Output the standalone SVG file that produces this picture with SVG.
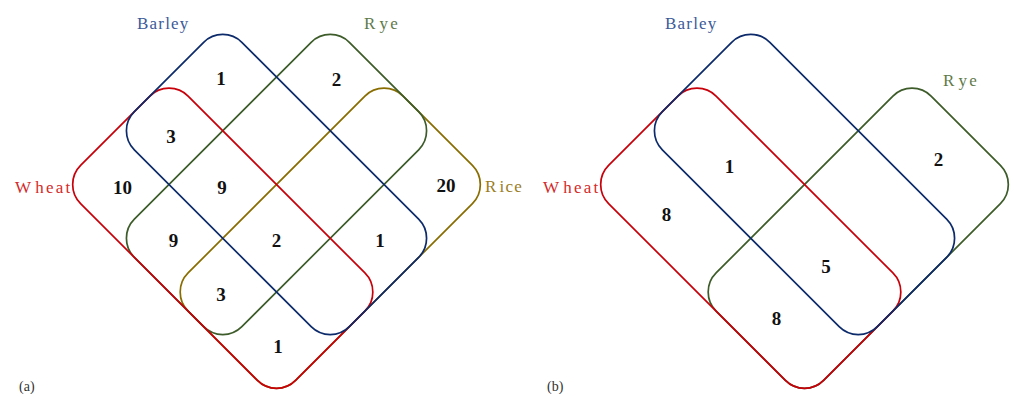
<svg xmlns="http://www.w3.org/2000/svg" width="1011" height="394" viewBox="0 0 1011 394">
  <style>
    .set { fill: none; stroke-width: 1.7; }
    .wheat { stroke: #c8000a; }
    .barley { stroke: #0d2b6b; }
    .rye { stroke: #3d5c2a; }
    .rice { stroke: #8a6d00; }
    .num { font-family: "Liberation Serif", serif; font-weight: bold; font-size: 19px; fill: #111; text-anchor: middle; }
    .lbl { font-family: "Liberation Serif", serif; font-size: 17px; letter-spacing: 1.2px; }
    .wide { letter-spacing: 2.2px; }
    .cap { font-family: "Liberation Serif", serif; font-size: 14px; fill: #333; }
  </style>
  <defs>
    <rect id="shape" x="-152.03" y="-76.01" width="304.06" height="152.03" rx="27" ry="27"/>
  </defs>
  <rect width="1011" height="394" fill="#fff"/>

  <!-- Panel (a) -->
  <g id="panel-a">
    <g id="a-rice"><use href="#shape" class="set rice" transform="translate(330.25 238.25) rotate(-45)"/></g>
    <g id="a-rye"><use href="#shape" class="set rye" transform="translate(276.5 184.5) rotate(-45)"/></g>
    <g id="a-wheat"><use href="#shape" class="set wheat" transform="translate(222.75 238.25) rotate(45)"/></g>
    <g id="a-barley"><use href="#shape" class="set barley" transform="translate(276.5 184.5) rotate(45)"/></g>

    <g id="a-labels">
      <text class="lbl" x="137" y="29" fill="#3c5a99">Barley</text>
      <text class="lbl" x="364" y="29" fill="#5f7a4a">R<tspan dx="3" class="wide">ye</tspan></text>
      <text class="lbl" x="15" y="193" fill="#d42a2a">W<tspan dx="3" class="wide">heat</tspan></text>
      <text class="lbl" x="485" y="192" fill="#9a7d1e">R<tspan dx="2">ice</tspan></text>
      <text class="cap" x="19" y="391">(a)</text>
    </g>
    <g id="a-numbers">
      <text class="num" x="221" y="85">1</text>
      <text class="num" x="336.5" y="86">2</text>
      <text class="num" x="171" y="143">3</text>
      <text class="num" x="122.5" y="194">10</text>
      <text class="num" x="222" y="194">9</text>
      <text class="num" x="446" y="192">20</text>
      <text class="num" x="173.5" y="247">9</text>
      <text class="num" x="276.5" y="247">2</text>
      <text class="num" x="380" y="247">1</text>
      <text class="num" x="221" y="301">3</text>
      <text class="num" x="278" y="353">1</text>
    </g>
  </g>

  <!-- Panel (b) -->
  <g id="panel-b">
    <g id="b-rye"><use href="#shape" class="set rye" transform="translate(858.25 238.25) rotate(-45)"/></g>
    <g id="b-wheat"><use href="#shape" class="set wheat" transform="translate(750.75 238.25) rotate(45)"/></g>
    <g id="b-barley"><use href="#shape" class="set barley" transform="translate(804.5 184.5) rotate(45)"/></g>

    <g id="b-labels">
      <text class="lbl" x="665" y="29" fill="#3c5a99">Barley</text>
      <text class="lbl" x="943" y="86" fill="#5f7a4a">R<tspan dx="3" class="wide">ye</tspan></text>
      <text class="lbl" x="543" y="193" fill="#d42a2a">W<tspan dx="3" class="wide">heat</tspan></text>
      <text class="cap" x="547" y="391">(b)</text>
    </g>
    <g id="b-numbers">
      <text class="num" x="729.5" y="173">1</text>
      <text class="num" x="938.5" y="166">2</text>
      <text class="num" x="666.5" y="221">8</text>
      <text class="num" x="826" y="273">5</text>
      <text class="num" x="776.5" y="325">8</text>
    </g>
  </g>
</svg>
